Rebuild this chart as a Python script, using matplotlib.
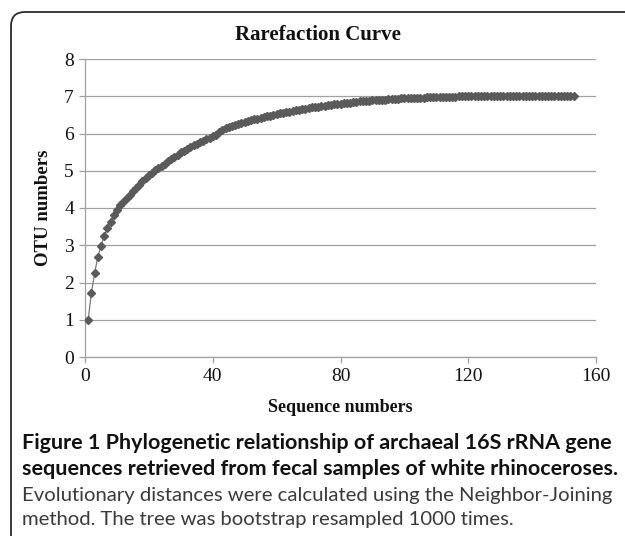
"""
Rarefaction curve figure, 625x536 px
"""

import matplotlib
matplotlib.use("Agg")

import matplotlib.pyplot as plt
from matplotlib.patches import FancyBboxPatch
from matplotlib.transforms import IdentityTransform

# ---------- DATA ----------
seq_numbers = list(range(1, 154))

otu_numbers = [
    1.00, 1.72, 2.25, 2.68, 2.98, 3.25, 3.45, 3.63, 3.80, 3.95,
    4.07, 4.17, 4.27, 4.36, 4.45, 4.53, 4.61, 4.72, 4.80, 4.88,
    4.95, 5.01, 5.07, 5.13, 5.19, 5.25, 5.31, 5.37, 5.43, 5.49,
    5.54, 5.59, 5.64, 5.68, 5.73, 5.77, 5.81, 5.85, 5.88, 5.92,
    5.96, 6.05, 6.10, 6.14, 6.17, 6.20, 6.23, 6.26, 6.29, 6.32,
    6.34, 6.36, 6.38, 6.40, 6.42, 6.44, 6.46, 6.48, 6.50, 6.52,
    6.54, 6.56, 6.58, 6.59, 6.61, 6.62, 6.64, 6.65, 6.67, 6.68,
    6.70, 6.71, 6.72, 6.74, 6.75, 6.76, 6.77, 6.78, 6.79, 6.80,
    6.81, 6.82, 6.83, 6.84, 6.85, 6.86, 6.86, 6.87, 6.88, 6.89,
    6.89, 6.90, 6.91, 6.91, 6.92, 6.92, 6.93, 6.93, 6.94, 6.94,
    6.95, 6.95, 6.95, 6.96, 6.96, 6.96, 6.97, 6.97, 6.97, 6.97,
    6.98, 6.98, 6.98, 6.98, 6.99, 6.99, 7.01, 7.01, 7.01, 7.01,
    7.01, 7.01, 7.01, 7.01, 7.01, 7.00, 7.00, 7.00, 7.00, 7.00,
    7.00, 7.00, 7.00, 7.00, 7.00, 7.00, 7.00, 7.00, 7.00, 7.00,
    7.00, 7.00, 7.00, 7.00, 7.00, 7.00, 7.00, 7.00, 7.00, 7.00,
    7.00, 7.00, 7.00,
]

x_ticks = [0, 40, 80, 120, 160]
y_ticks = [0, 1, 2, 3, 4, 5, 6, 7, 8]

title = "Rarefaction Curve"
x_label = "Sequence numbers"
y_label = "OTU numbers"

caption_bold = [
    "Figure 1 Phylogenetic relationship of archaeal 16S rRNA gene",
    "sequences retrieved from fecal samples of white rhinoceroses.",
]
caption_plain = [
    "Evolutionary distances were calculated using the Neighbor-Joining",
    "method. The tree was bootstrap resampled 1000 times.",
]

# ---------- GEOMETRY (pixels) ----------
W, H = 625, 536
AX_L, AX_R = 85, 596
AX_T, AX_B = 59, 357

GRID = "#a0a0a0"
MARK = "#5a5a5a"
SERIF = "Liberation Serif"
SANS = "Lato"


def fx(px):
    return px / W


def fy(py):
    return 1 - py / H


fig = plt.figure(figsize=(W / 100, H / 100), dpi=100)
fig.patch.set_facecolor("white")

# frame around the figure (open to the right / bottom like the crop)
frame = FancyBboxPatch(
    (11, -40), 700, (H - 12) + 40,
    boxstyle="round,pad=0,rounding_size=14",
    transform=IdentityTransform(),
    facecolor="none", edgecolor="#2b2b2b", linewidth=1.3,
)
fig.add_artist(frame)

ax = fig.add_axes([fx(AX_L), fy(AX_B), fx(AX_R - AX_L), (AX_B - AX_T) / H])
ax.set_xlim(0, 160)
ax.set_ylim(0, 8)

ax.plot(seq_numbers, otu_numbers, color="#7a7a7a", linewidth=0.9,
        marker="D", markersize=3.6, markerfacecolor=MARK,
        markeredgecolor=MARK, zorder=3)

ax.set_xticks(x_ticks)
ax.set_yticks(y_ticks)
ax.grid(axis="y", color=GRID, linewidth=0.9)
ax.set_axisbelow(True)

for side in ("top", "right"):
    ax.spines[side].set_visible(False)
for side in ("left", "bottom"):
    ax.spines[side].set_color(GRID)
    ax.spines[side].set_linewidth(0.9)

ax.tick_params(direction="out", length=4, width=0.9, color=GRID,
               labelsize=14, pad=4)
for lab in ax.get_xticklabels() + ax.get_yticklabels():
    lab.set_fontfamily(SERIF)
    lab.set_color("#111111")

# ---------- TEXTS ----------
fig.text(fx(318), fy(35), title, family=SERIF, fontweight="bold",
         fontsize=15, ha="center", va="center", color="#111111")
fig.text(fx(340), fy(407), x_label, family=SERIF, fontweight="bold",
         fontsize=13, ha="center", va="center", color="#111111")
fig.text(fx(43), fy(208), y_label, family=SERIF, fontweight="bold",
         fontsize=13.5, ha="center", va="center", rotation=90, color="#111111")

# caption: one size per style, fitted on the widest line of each
fig.canvas.draw()
renderer = fig.canvas.get_renderer()


def caption(lines, weight, col, ys, fit_width):
    probe = fig.text(0, 0, lines[0], family=SANS, fontweight=weight, fontsize=14)
    size = 14 * fit_width / probe.get_window_extent(renderer=renderer).width
    probe.remove()
    for txt, y in zip(lines, ys):
        fig.text(fx(22), fy(y), txt, family=SANS, fontweight=weight,
                 fontsize=size, ha="left", va="center", color=col)


caption(caption_bold, "bold", "#111111", [443, 469], 592)
caption(caption_plain, "normal", "#3a3a3a", [495, 520], 592)

fig.savefig("out.png", dpi=100)
